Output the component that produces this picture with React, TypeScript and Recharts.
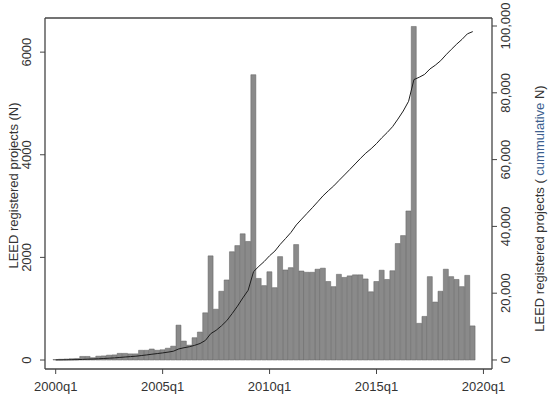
import React from "react";
import {
  Bar,
  ComposedChart,
  Line,
  ReferenceLine,
  XAxis,
  YAxis,
} from "recharts";

// quarterly LEED registrations, 2000q1 .. 2019q3
const startYear = 2000;
const registered = [
  10, 15, 20, 25, 30, 70, 70, 45, 75, 80, 95, 100, 130, 130, 120, 120, 190, 190, 215, 190,
  200, 230, 270, 680, 370, 290, 435, 545, 920, 2030, 990, 1340, 1560, 2110, 2230, 2460, 2310, 5560, 1590, 1450,
  1720, 1410, 2015, 1755, 1800, 2250, 1735, 1710, 1710, 1770, 1790, 1530, 1430, 1670, 1610, 1640, 1660, 1660, 1580, 1330,
  1530, 1750, 1570, 1740, 2270, 2425, 2905, 6500, 715, 850, 1625, 1130, 1340, 1770, 1625, 1570, 1430, 1650, 665,
];
// cumulative line
const cumulative = [
  10, 25, 45, 70, 100, 170, 240, 285, 360, 440, 535, 635, 765, 895, 1015, 1135, 1325, 1515, 1730, 1920,
  2120, 2350, 2620, 3300, 3670, 3960, 4395, 4940, 5860, 7890, 8880, 10220, 11780, 13890, 16120, 18580, 20890, 26450, 28040, 29490,
  31210, 32620, 34635, 36390, 38190, 40440, 42175, 43885, 45595, 47365, 49155, 50685, 52115, 53785, 55395, 57035, 58695, 60355, 61935, 63265,
  64795, 66545, 68115, 69855, 72125, 74550, 77455, 83955, 84670, 85520, 87145, 88275, 89615, 91385, 93010, 94580, 96010, 97660, 98325,
];
const xTicks = [0, 20, 40, 60, 80];
const leftTicks = [0, 2000, 4000, 6000];
const rightTicks = [0, 20000, 40000, 60000, 80000, 100000];

const xDomain = [-2, 81.6];
const leftDomain = [-175, 6665];
const rightDomain = [-2700, 102400];

const data = registered.map((n, i) => ({ t: i, n, cum: cumulative[i] }));

const FONT = "'Liberation Sans', Arial, sans-serif";
const INK = "#333";
const AXIS = "#444";

const RotTick = ({ x, y, payload, dx, fmt }: any) => {
  const px = x + dx;
  return (
    <text
      x={px}
      y={y}
      transform={`rotate(-90 ${px} ${y})`}
      textAnchor="middle"
      fontFamily={FONT}
      fontSize={13}
      fill={INK}
    >
      {fmt ? fmt(payload.value) : payload.value}
    </text>
  );
};

const LeftTitle = ({ viewBox }: any) => {
  const x = viewBox.x + 17.5;
  const y = viewBox.y + viewBox.height / 2 - 8;
  return (
    <text x={x} y={y} transform={`rotate(-90 ${x} ${y})`} textAnchor="middle" fontFamily={FONT} fontSize={13} fill={INK}>
      LEED registered projects (N)
    </text>
  );
};

const RightTitle = ({ viewBox }: any) => {
  const x = viewBox.x + 51.5;
  const y = viewBox.y + viewBox.height / 2 + 15;
  return (
    <text x={x} y={y} transform={`rotate(-90 ${x} ${y})`} textAnchor="middle" fontFamily={FONT} fontSize={13} fill={INK}>
      LEED registered projects {"( "}
      <tspan fill="#3d5f8f">cummulative</tspan> N)
    </text>
  );
};

export default function App() {
  return (
    <div style={{ position: "absolute", left: 0, top: 0, width: 550, height: 396, background: "#fff" }}>
      <ComposedChart
        width={550}
        height={396}
        data={data}
        margin={{ top: 18, right: 0, bottom: 0, left: 0 }}
        barCategoryGap={0}
      >
        <XAxis
          dataKey="t"
          type="number"
          domain={xDomain}
          ticks={xTicks}
          allowDataOverflow
          height={27}
          tickSize={5}
          tickMargin={8}
          tickFormatter={(t: number) => `${startYear + t / 4}q1`}
          tick={{ fontFamily: FONT, fontSize: 13, fill: INK }}
          axisLine={{ stroke: AXIS, strokeWidth: 1.3 }}
          tickLine={{ stroke: AXIS }}
        />
        <YAxis
          yAxisId="left"
          domain={leftDomain}
          ticks={leftTicks}
          allowDataOverflow
          width={45}
          tickSize={5}
          tick={<RotTick dx={-7} />}
          axisLine={{ stroke: AXIS, strokeWidth: 1.3 }}
          tickLine={{ stroke: AXIS }}
          label={<LeftTitle />}
        />
        <YAxis
          yAxisId="right"
          orientation="right"
          domain={rightDomain}
          ticks={rightTicks}
          allowDataOverflow
          width={58}
          tickSize={5}
          tick={<RotTick dx={11} fmt={(v: number) => v.toLocaleString("en-US")} />}
          axisLine={{ stroke: AXIS, strokeWidth: 1.3 }}
          tickLine={{ stroke: AXIS }}
          label={<RightTitle />}
        />
        <ReferenceLine yAxisId="left" y={leftDomain[1]} stroke={AXIS} strokeWidth={1.3} />
        <Bar
          yAxisId="left"
          dataKey="n"
          fill="#8a8a8a"
          stroke="#5e5e5e"
          strokeWidth={0.5}
          isAnimationActive={false}
        />
        <Line
          yAxisId="right"
          dataKey="cum"
          type="linear"
          stroke="#1e1e1e"
          strokeWidth={1}
          dot={false}
          activeDot={false}
          isAnimationActive={false}
        />
      </ComposedChart>
    </div>
  );
}
